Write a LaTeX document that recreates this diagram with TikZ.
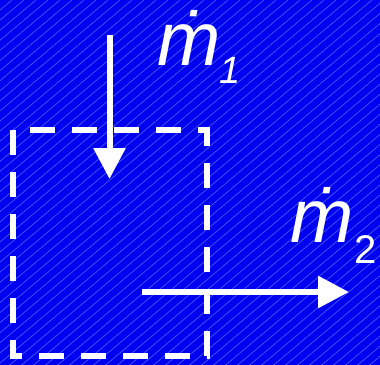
\documentclass[tikz,border=0pt]{standalone}
\usepackage{fontspec}
\setmainfont{Liberation Sans}
\usepackage{xcolor}
\usetikzlibrary{arrows.meta, positioning, calc}
\definecolor{slideblue}{RGB}{0,0,240}
\definecolor{hatchblue}{RGB}{70,90,255}

\begin{document}
\begin{tikzpicture}[
    x=1pt, y=-1pt,
    flowarrow/.style={-{Triangle[length=31pt, width=31pt]}, line width=6pt, draw=white},
    cvbox/.style={rectangle, minimum width=194pt, minimum height=226pt, inner sep=0pt, outer sep=0pt},
    cvline/.style={line width=6.5pt, draw=white, dash pattern=on 25pt off 17pt},
    flowlabel/.style={anchor=base west, inner sep=0pt, text=white, font=\fontsize{76}{76}\selectfont\itshape},
]
\useasboundingbox (0,0) rectangle (380,364);
% background with hatching
\fill[slideblue] (-3,-3) rectangle (383,367);
\begin{scope}
\clip (-3,-3) rectangle (383,367);
\foreach \k in {0,12,...,840}
    \draw[hatchblue, line width=0.7pt] (\k,0) -- (\k-476,400);
\end{scope}

% control volume
\node[cvbox] (cv) at (110,243) {};
\draw[cvline] (cv.north west) -- (cv.south west) -- (cv.south east) -- (cv.north east) -- cycle;

% mass flows
\coordinate (in1) at (109.5,35);
\coordinate (in1tip) at (109.5,179);
\coordinate (out2) at (142,292);
\coordinate (out2tip) at (349,292);
\draw[flowarrow] (in1) -- (in1tip);
\draw[flowarrow] (out2) -- (out2tip);

\node[flowlabel] (m1) at (157,65) {ṁ\kern-1pt\raisebox{-18pt}{\fontsize{38}{38}\selectfont 1}};
\node[flowlabel] (m2) at (290,242) {ṁ\kern1pt\raisebox{-21pt}{\fontsize{40}{40}\selectfont\upshape 2}};
\end{tikzpicture}
\end{document}
